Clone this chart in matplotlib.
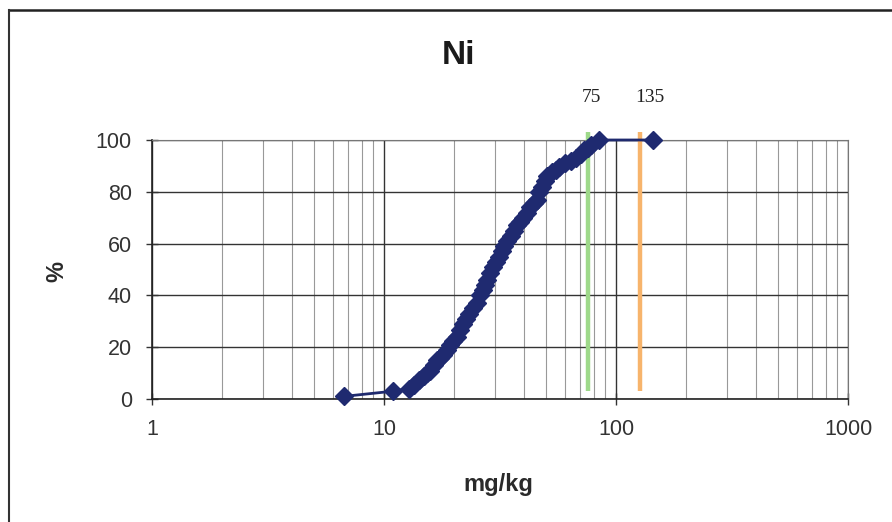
import matplotlib
matplotlib.use("Agg")
import matplotlib.pyplot as plt
from matplotlib.lines import Line2D
from matplotlib.ticker import LogLocator, FixedLocator, NullFormatter

# ---- data ----
conc = [6.7, 10.9, 12.8, 13.5, 14.2, 14.8, 15.3, 15.8, 16.4, 16.9, 17.5, 17.9,
        18.6, 19.2, 19.8, 20.6, 21.2, 21.9, 22.6, 23.3, 24.1, 25.2, 25.9, 26.6,
        27.2, 27.8, 28.6, 29.5, 30.4, 31.3, 32.1, 33.0, 33.9, 35.1, 36.3, 37.5,
        38.6, 39.7, 41.2, 42.6, 44.1, 45.6, 46.8, 48.0, 49.3, 50.5, 52.8, 55.0,
        57.0, 60.5, 64.0, 67.5, 70.5, 73.0, 75.5, 78.0, 84.5, 144]
cum_pct = [1, 3, 4, 5.5, 7.5, 9, 10, 11, 13, 15, 16, 17,
           19, 21, 22.5, 24, 26.5, 29, 31, 33, 35, 37, 40, 42,
           44, 46, 48.5, 51, 53, 55, 57, 59, 61, 63, 65, 67,
           68.5, 70, 72, 74, 75.5, 77, 80, 82, 84, 86, 87.5, 88.5,
           89.5, 91, 92, 93, 94.5, 96, 97, 98, 100, 100]
ref_labels = ["75", "135"]
ref_line_x = [76, 127]
ref_colors = ["#9ed98a", "#f7b46c"]
y_ticks = [0, 20, 40, 60, 80, 100]
x_ticks = [1, 10, 100, 1000]
x_tick_labels = ["1", "10", "100", "1000"]

W, H = 892, 522
fig = plt.figure(figsize=(W / 100, H / 100), dpi=100)
fig.patch.set_facecolor("white")
L, R, T, B = 152, 848, 140, 399
ax = fig.add_axes([L / W, (H - B) / H, (R - L) / W, (B - T) / H])

font = "Liberation Sans"

ax.set_xscale("log")
ax.set_xlim(1, 1000)
ax.set_ylim(0, 100)

# grid
ax.xaxis.set_major_locator(FixedLocator(x_ticks))
ax.xaxis.set_minor_locator(LogLocator(base=10, subs=range(2, 10)))
ax.xaxis.set_minor_formatter(NullFormatter())
ax.set_xticklabels(x_tick_labels)
ax.set_yticks(y_ticks)
ax.grid(True, which="major", color="#333333", lw=1.0)
ax.grid(True, which="minor", axis="x", color="#999999", lw=0.8)
ax.set_axisbelow(True)

for s in ["top", "right"]:
    ax.spines[s].set_color("#777777")
    ax.spines[s].set_linewidth(0.8)
for s in ["left", "bottom"]:
    ax.spines[s].set_color("#222222")
    ax.spines[s].set_linewidth(1.2)

ax.tick_params(axis="both", which="major", direction="inout", length=9,
               width=1.0, colors="#333333", labelsize=15.5, pad=10)
ax.tick_params(axis="x", which="minor", length=0)
for lab in ax.get_xticklabels() + ax.get_yticklabels():
    lab.set_fontfamily(font)
    lab.set_color("#333333")

# reference lines
for xv, c in zip(ref_line_x, ref_colors):
    ax.plot([xv, xv], [3, 103], color=c, lw=3.2, clip_on=False, zorder=3,
            solid_capstyle="butt")

# data
ax.plot(conc, cum_pct, color="#1f2a6e", lw=2.0, marker="D", markersize=9,
        markerfacecolor="#1f2a70", markeredgecolor="#1f2a70", zorder=4,
        clip_on=False)

# labels for reference lines
for txt, xv in zip(ref_labels, [591, 650]):
    fig.text(xv / W, 1 - 97 / H, txt, ha="center", va="center",
             fontsize=14, family="Liberation Serif", color="#222222")

fig.text(458 / W, 1 - 55 / H, "Ni", ha="center", va="center", fontsize=24,
         fontweight="bold", family=font, color="#1a1a1a")
fig.text(498 / W, 1 - 484 / H, "mg/kg", ha="center", va="center", fontsize=17,
         fontweight="bold", family=font, color="#2a2a2a")
fig.text(57 / W, 1 - 272 / H, "%", ha="center", va="center", fontsize=17,
         fontweight="bold", family=font, color="#2a2a2a", rotation=90)

# scan frame lines
fig.add_artist(Line2D([9 / W, 1], [1 - 10 / H, 1 - 10 / H],
                      transform=fig.transFigure, color="#222222", lw=1.8))
fig.add_artist(Line2D([9 / W, 9 / W], [0, 1 - 10 / H],
                      transform=fig.transFigure, color="#333333", lw=1.5))

fig.savefig("out.png", dpi=100, facecolor="white")
